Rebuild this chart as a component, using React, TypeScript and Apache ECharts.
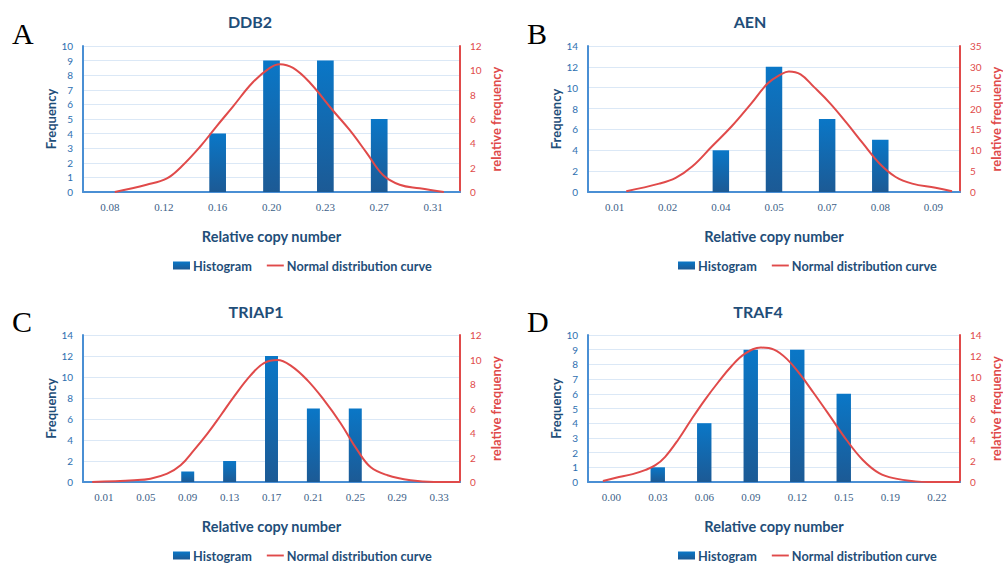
import React, { useEffect, useRef } from "react";
import * as echarts from "echarts";

// ---- Data ----
const catsA = ["0.08", "0.12", "0.16", "0.20", "0.23", "0.27", "0.31"];
const freqA = [0, 0, 4, 9, 9, 5, 0];
const curveXA = [0.09, 0.68, 1.05, 1.33, 1.67, 1.98, 2.28, 2.65, 2.97, 3.15, 3.4, 3.71, 4.14, 4.45, 4.77, 5.07, 5.38, 5.75, 6.2];
const curveYA = [0, 0.6, 1.1, 2.1, 3.7, 5.4, 7.0, 9.0, 10.2, 10.5, 10.2, 9.0, 6.7, 5.1, 3.2, 1.4, 0.6, 0.3, 0];

const catsB = ["0.01", "0.02", "0.04", "0.05", "0.07", "0.08", "0.09"];
const freqB = [0, 0, 4, 12, 7, 5, 0];
const curveXB = [0.22, 0.84, 1.15, 1.46, 1.83, 2.2, 2.57, 2.88, 3.13, 3.28, 3.5, 3.75, 4.06, 4.37, 4.67, 4.98, 5.29, 5.6, 6.04, 6.35];
const curveYB = [0.2, 2.0, 3.4, 6.1, 10.9, 15.7, 21.2, 26, 28.2, 28.9, 28.2, 25.2, 21.2, 16.5, 11.7, 6.9, 3.6, 2.0, 1.0, 0.16];

const catsC = ["0.01", "0.05", "0.09", "0.13", "0.17", "0.21", "0.25", "0.29", "0.33"];
const freqC = [0, 0, 1, 2, 12, 7, 7, 0, 0];
const curveXC = [-0.28, 0.72, 1.11, 1.51, 1.83, 2.15, 2.47, 2.79, 3.1, 3.5, 3.82, 4.14, 4.46, 4.86, 5.25, 5.65, 6.05, 6.37, 6.77, 7.32, 7.88, 8.5];
const curveYC = [0, 0.14, 0.27, 0.68, 1.36, 2.6, 3.95, 5.45, 6.95, 8.7, 9.7, 9.95, 9.5, 8.3, 6.7, 4.8, 2.6, 1.2, 0.55, 0.14, 0, 0];

const catsD = ["0.00", "0.03", "0.06", "0.09", "0.12", "0.15", "0.19", "0.22"];
const freqD = [0, 1, 4, 9, 9, 6, 0, 0];
const curveXD = [-0.18, 0.1, 0.46, 0.74, 0.95, 1.16, 1.45, 1.73, 2.01, 2.3, 2.58, 2.87, 3.22, 3.5, 3.78, 4.07, 4.35, 4.7, 5.06, 5.41, 5.76, 6.12, 6.54, 6.82, 7.5];
const curveYD = [0.1, 0.4, 0.75, 1.15, 1.6, 2.4, 4.1, 6.0, 7.8, 9.5, 11.0, 12.2, 12.8, 12.6, 11.7, 10.2, 8.5, 6.3, 4.0, 2.1, 0.85, 0.32, 0.06, 0, 0];

const titles = ["DDB2", "AEN", "TRIAP1", "TRAF4"];
const letters = ["A", "B", "C", "D"];
const freqMax = [10, 14, 14, 10];
const freqStep = [1, 2, 2, 1];
const relMax = [12, 35, 12, 14];
const relStep = [2, 5, 2, 2];

const HIST = "Histogram";
const CURVE = "Normal distribution curve";

const panelData = [
  { cats: catsA, freq: freqA, cx: curveXA, cy: curveYA },
  { cats: catsB, freq: freqB, cx: curveXB, cy: curveYB },
  { cats: catsC, freq: freqC, cx: curveXC, cy: curveYC },
  { cats: catsD, freq: freqD, cx: curveXD, cy: curveYD },
];

// layout (not data)
const layout = [
  { left: 83, top: 46, height: 146, tx: 250, ty: 21, lx: 12, ly: 33, legL: 173, legT: 259 },
  { left: 588, top: 46, height: 146, tx: 750, ty: 21, lx: 527, ly: 33, legL: 678, legT: 259 },
  { left: 83, top: 335, height: 147, tx: 256, ty: 311, lx: 12, ly: 321, legL: 173, legT: 549 },
  { left: 588, top: 335, height: 147, tx: 758, ty: 311, lx: 527, ly: 321, legL: 678, legT: 549 },
];

const BLUE_AXIS = "#4a8fd4";
const BLUE_TXT = "#2e6fb0";
const DARK_BLUE = "#1f4e79";
const RED = "#e04a4a";
const SANS = "Lato, 'Open Sans', sans-serif";

export default function App() {
  const ref = useRef<HTMLDivElement>(null);
  useEffect(() => {
    if (!ref.current) return;
    const chart = echarts.init(ref.current, null, { renderer: "svg" });
    const grid: any[] = [];
    const xAxis: any[] = [];
    const yAxis: any[] = [];
    const series: any[] = [];
    const legend: any[] = [];
    const graphic: any[] = [];

    panelData.forEach((p, k) => {
      const L = layout[k];
      grid.push({ left: L.left, top: L.top, width: 377, height: L.height });
      xAxis.push({
        type: "category",
        gridIndex: k,
        data: p.cats,
        boundaryGap: true,
        axisLine: { show: true, onZero: false, lineStyle: { color: BLUE_AXIS, width: 2 } },
        axisTick: { show: false },
        axisLabel: { color: "#3d5f88", fontSize: 11, fontFamily: "'Liberation Serif', 'Times New Roman', serif", margin: 9 },
        name: "Relative copy number",
        nameLocation: "middle",
        nameGap: 37,
        nameTextStyle: { color: DARK_BLUE, fontSize: 14.5, fontWeight: "bold", fontFamily: SANS },
      });
      xAxis.push({
        type: "value",
        gridIndex: k,
        min: -0.5,
        max: p.cats.length - 0.5,
        show: false,
      });
      yAxis.push({
        type: "value",
        gridIndex: k,
        min: 0,
        max: freqMax[k],
        interval: freqStep[k],
        position: "left",
        axisLine: { show: true, onZero: false, lineStyle: { color: BLUE_AXIS, width: 2 } },
        axisTick: { show: false },
        axisLabel: { color: BLUE_TXT, fontSize: 10, fontFamily: SANS, margin: 10 },
        splitLine: { show: true, lineStyle: { color: "#dbe8f6", width: 1 } },
        name: "Frequency",
        nameLocation: "middle",
        nameRotate: 90,
        nameGap: 26,
        nameTextStyle: { color: DARK_BLUE, fontSize: 13, fontWeight: "bold", fontFamily: SANS },
      });
      yAxis.push({
        type: "value",
        gridIndex: k,
        min: 0,
        max: relMax[k],
        interval: relStep[k],
        position: "right",
        axisLine: { show: true, onZero: false, lineStyle: { color: RED, width: 2 } },
        axisTick: { show: false },
        axisLabel: { color: RED, fontSize: 10, fontFamily: SANS, margin: 10 },
        splitLine: { show: false },
        name: "relative frequency",
        nameLocation: "middle",
        nameRotate: 90,
        nameGap: 29,
        nameTextStyle: { color: RED, fontSize: 13, fontWeight: "bold", fontFamily: SANS },
      });
      series.push({
        name: HIST,
        type: "bar",
        xAxisIndex: 2 * k,
        yAxisIndex: 2 * k,
        data: p.freq,
        barWidth: "31%",
        itemStyle: {
          color: new echarts.graphic.LinearGradient(0, 0, 0, 1, [
            { offset: 0, color: "#0a77c7" },
            { offset: 1, color: "#1c5a95" },
          ]),
        },
      });
      series.push({
        name: CURVE,
        type: "line",
        xAxisIndex: 2 * k + 1,
        yAxisIndex: 2 * k + 1,
        data: p.cx.map((x, i) => [x, p.cy[i]]),
        smooth: 0.4,
        symbol: "none",
        lineStyle: { color: RED, width: 2 },
        itemStyle: { color: RED },
      });
      legend.push({
        left: L.legL,
        top: L.legT,
        padding: 0,
        itemWidth: 17,
        itemHeight: 8,
        itemGap: 15,
        data: [
          { name: HIST, icon: "rect" },
          { name: CURVE, icon: "path://M0,0h9v1H0z", itemStyle: { color: RED } },
        ],
        textStyle: { color: DARK_BLUE, fontSize: 12.7, fontWeight: "bold", fontFamily: SANS, padding: [0, 0, 0, -2] },
        selectedMode: false,
      });
      graphic.push({
        type: "text",
        x: L.tx,
        y: L.ty,
        style: { text: titles[k], fill: DARK_BLUE, font: `bold 16px ${SANS}`, textAlign: "center", textVerticalAlign: "middle" },
      });
      graphic.push({
        type: "text",
        x: L.lx,
        y: L.ly,
        style: { text: letters[k], fill: "#000", font: "30px 'Liberation Serif', 'Times New Roman', serif", textAlign: "left", textVerticalAlign: "middle" },
      });
    });

    chart.setOption({
      animation: false,
      backgroundColor: "#ffffff",
      grid,
      xAxis,
      yAxis,
      series,
      legend,
      graphic,
    });
    return () => chart.dispose();
  }, []);
  return <div ref={ref} style={{ position: "fixed", left: 0, top: 0, width: 1003, height: 563 }} />;
}
